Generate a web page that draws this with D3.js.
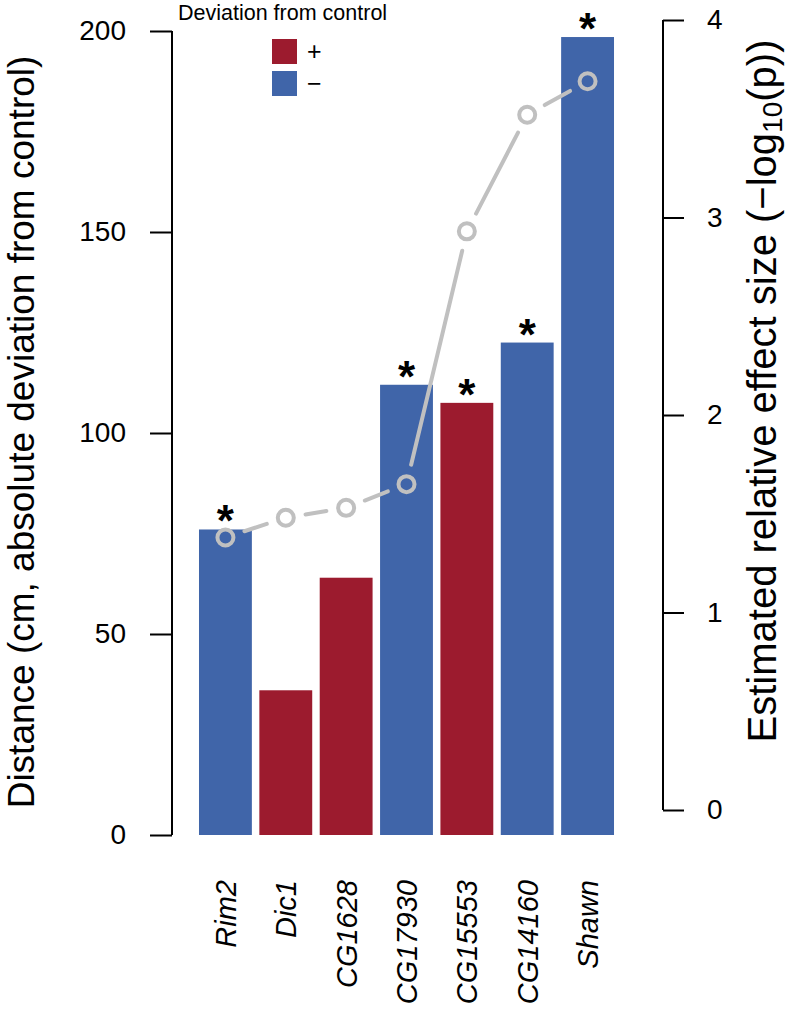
<!DOCTYPE html>
<html>
<head>
<meta charset="utf-8">
<script src="https://cdn.jsdelivr.net/npm/d3@7"></script>
<style>
  body { margin: 0; background: #fff; }
  svg { display: block; font-family: "Liberation Sans", Arial, Helvetica, sans-serif; }
</style>
</head>
<body>
<div id="chart"></div>
<script>
// values
var genes = ["Rim2", "Dic1", "CG1628", "CG17930", "CG15553", "CG14160", "Shawn"];
var distance = [76, 36, 64, 112, 107.5, 122.5, 198.5];
var direction = ["-", "+", "+", "-", "+", "-", "-"];
var effectSize = [1.38, 1.48, 1.53, 1.65, 2.93, 3.52, 3.69];
var significant = [true, false, false, true, true, true, true];
var leftTicks = [0, 50, 100, 150, 200];
var rightTicks = [0, 1, 2, 3, 4];
var legendKeys = ["+", "-"];
var legendLabels = ["+", "\u2212"];

var width = 789, height = 1013;
var colors = {"+": "#9c1b2e", "-": "#4065a9"};
var grey = "#c0c0c0";

var svg = d3.select("#chart").append("svg")
  .attr("width", width)
  .attr("height", height);

var x = d3.scaleBand()
  .domain(genes)
  .range([195.25, 617.75])
  .paddingInner(0.124)
  .paddingOuter(0.062);

var yLeft = d3.scaleLinear().domain([0, 200]).range([835, 31]);
var yRight = d3.scaleLinear().domain([0, 4]).range([810, 20]);

var rows = genes.map(function (g, i) {
  return {gene: g, dist: distance[i], dir: direction[i], eff: effectSize[i], sig: significant[i]};
});

// bars
svg.append("g").selectAll("rect")
  .data(rows)
  .enter().append("rect")
  .attr("x", function (d) { return x(d.gene); })
  .attr("y", function (d) { return yLeft(d.dist); })
  .attr("width", x.bandwidth())
  .attr("height", function (d) { return yLeft(0) - yLeft(d.dist); })
  .attr("fill", function (d) { return colors[d.dir]; });

// asterisks for significant genes
svg.append("g").selectAll("text")
  .data(rows.filter(function (d) { return d.sig; }))
  .enter().append("text")
  .attr("x", function (d) { return x(d.gene) + x.bandwidth() / 2; })
  .attr("y", function (d) { return yLeft(d.dist) + 7; })
  .attr("text-anchor", "middle")
  .attr("font-size", 44)
  .attr("font-weight", "bold")
  .attr("fill", "#000")
  .text("*");

// effect size line, R type="b" style (gaps around points)
var pts = rows.map(function (d) {
  return [x(d.gene) + x.bandwidth() / 2, yRight(d.eff)];
});
var gap = 20;
var segs = d3.pairs(pts).map(function (p) {
  var dx = p[1][0] - p[0][0], dy = p[1][1] - p[0][1];
  var len = Math.sqrt(dx * dx + dy * dy);
  var ux = dx / len, uy = dy / len;
  return [[p[0][0] + ux * gap, p[0][1] + uy * gap], [p[1][0] - ux * gap, p[1][1] - uy * gap]];
});
svg.append("g").selectAll("line")
  .data(segs)
  .enter().append("line")
  .attr("x1", function (d) { return d[0][0]; })
  .attr("y1", function (d) { return d[0][1]; })
  .attr("x2", function (d) { return d[1][0]; })
  .attr("y2", function (d) { return d[1][1]; })
  .attr("stroke", grey)
  .attr("stroke-width", 4)
  .attr("stroke-linecap", "round");

svg.append("g").selectAll("circle")
  .data(pts)
  .enter().append("circle")
  .attr("cx", function (d) { return d[0]; })
  .attr("cy", function (d) { return d[1]; })
  .attr("r", 8)
  .attr("fill", "none")
  .attr("stroke", grey)
  .attr("stroke-width", 4);

// left axis
var axL = svg.append("g")
  .attr("transform", "translate(172,0)")
  .call(d3.axisLeft(yLeft).tickValues(leftTicks).tickSize(22).tickPadding(24));
axL.select(".domain").attr("stroke-width", 2).attr("d", "M0," + yLeft(0) + "V" + yLeft(200));
axL.selectAll(".tick line").attr("stroke-width", 2);
axL.selectAll(".tick text").attr("font-size", 28).attr("font-family", null).attr("fill", "#000");

// right axis
var axR = svg.append("g")
  .attr("transform", "translate(663,0)")
  .call(d3.axisRight(yRight).tickValues(rightTicks).tickFormat(d3.format("d")).tickSize(21).tickPadding(23));
axR.select(".domain").attr("stroke-width", 2).attr("d", "M0," + yRight(0) + "V" + yRight(4));
axR.selectAll(".tick line").attr("stroke-width", 2);
axR.selectAll(".tick text").attr("font-size", 28).attr("font-family", null).attr("fill", "#000");

// gene labels, rotated
svg.append("g").selectAll("text")
  .data(genes)
  .enter().append("text")
  .attr("transform", function (d) {
    return "translate(" + (x(d) + x.bandwidth() / 2 + 10.5) + ",880) rotate(-90)";
  })
  .attr("text-anchor", "end")
  .attr("font-size", 29)
  .attr("font-style", "italic")
  .text(function (d) { return d; });

// axis titles
svg.append("text")
  .attr("transform", "translate(34,432) rotate(-90)")
  .attr("text-anchor", "middle")
  .attr("font-size", 37)
  .text("Distance (cm, absolute deviation from control)");

var rt = svg.append("text")
  .attr("transform", "translate(776,391) rotate(-90)")
  .attr("text-anchor", "middle")
  .attr("font-size", 40);
rt.append("tspan").text("Estimated relative effect size (\u2212log");
rt.append("tspan").attr("font-size", 28).attr("dy", 6).text("10");
rt.append("tspan").attr("dy", -6).text("(p))");

// legend
var legend = svg.append("g");
legend.append("text")
  .attr("x", 178)
  .attr("y", 20)
  .attr("font-size", 21.5)
  .text("Deviation from control");

var item = legend.selectAll("g")
  .data(legendKeys)
  .enter().append("g")
  .attr("transform", function (d, i) { return "translate(272," + (39 + i * 32) + ")"; });
item.append("rect")
  .attr("width", 25)
  .attr("height", 25)
  .attr("fill", function (d) { return colors[d]; });
item.append("text")
  .attr("x", 35)
  .attr("y", 12.5)
  .attr("dy", "0.35em")
  .attr("font-size", 25)
  .text(function (d, i) { return legendLabels[i]; });
</script>
</body>
</html>
